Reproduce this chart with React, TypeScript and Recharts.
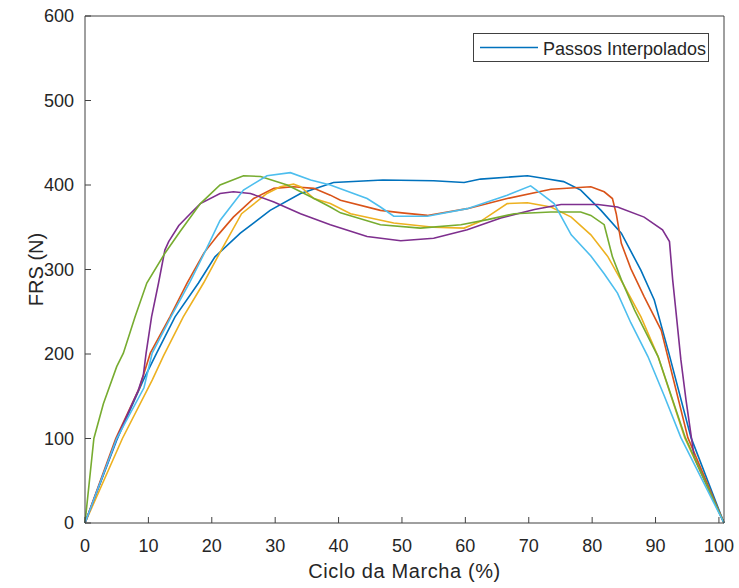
import React from 'react';
import { LineChart, Line, XAxis, YAxis, Legend } from 'recharts';

// ---- data (x = % of gait cycle, y = GRF in N) ----
const xTicks = [0, 10, 20, 30, 40, 50, 60, 70, 80, 90, 100];
const yTicks = [0, 100, 200, 300, 400, 500, 600];

const blueX = [0, 5, 9.2, 11.3, 14.2, 17.9, 20.5, 24.5, 29.2, 34, 39.2, 47, 55, 59.8, 62.4, 69.8, 73, 75.5, 78.2, 81.4, 84.6, 87.7, 89.8, 92.1, 95.6, 100.8];
const blueY = [0, 98, 169, 201, 244, 284, 315, 343, 370, 390, 403, 406, 405, 403, 407, 411, 407, 404, 394, 370, 343, 299, 264, 201, 101, 0];

const orangeX = [0, 4.85, 8.6, 10.3, 13.4, 16.1, 18.8, 21, 23.4, 26.6, 29.8, 32.9, 36.1, 38.7, 40.3, 46.6, 50, 54, 60.3, 66.6, 73.5, 79.8, 81.9, 83.2, 83.8, 84.6, 86.1, 88.2, 90.9, 95.1, 100.8];
const orangeY = [0, 100, 160, 201, 244, 284, 320, 341, 362, 384, 396, 398, 396, 388, 382, 370, 367, 364, 372, 384, 395, 398, 392, 384, 366, 331, 301, 268, 228, 101, 0];

const yellowX = [0, 5.9, 10.6, 12.4, 15.5, 18.7, 21.5, 24.7, 28.7, 30.8, 32.9, 34, 36.1, 38.7, 41.9, 48.7, 55, 59.8, 62.4, 66.6, 69.8, 73.5, 76.7, 79.8, 82.5, 85.1, 87.7, 90.4, 94.6, 100.8];
const yellowY = [0, 100, 169, 198, 244, 284, 323, 366, 390, 398, 401, 398, 384, 378, 366, 355, 350, 349, 357, 378, 379, 374, 362, 341, 315, 280, 244, 197, 101, 0];

const purpleX = [0, 5, 8.4, 9.2, 9.64, 10.5, 11.6, 12.6, 13.2, 14.8, 16.6, 18.2, 21.3, 23.4, 26.1, 29.8, 34, 38.7, 44.5, 49.8, 55, 60.3, 65.6, 70.9, 75.1, 80.9, 84, 88.2, 91.1, 92.2, 92.7, 93.2, 94, 94.8, 96.1, 100.8];
const purpleY = [0, 100, 157, 175, 201, 244, 284, 323, 333, 352, 366, 378, 390, 392, 390, 380, 366, 353, 339, 334, 337, 347, 361, 371, 377, 377, 374, 362, 347, 333, 288, 252, 193, 146, 78, 0];

const greenX = [0, 1.4, 2.9, 5, 6.05, 7.9, 9.75, 12.5, 15, 18.2, 21.3, 25, 27.7, 31.9, 35.6, 38.7, 40.3, 46.6, 52.9, 59.3, 63.5, 67.7, 73.5, 78.2, 79.8, 81.9, 83.2, 84.6, 86.7, 90.4, 94.7, 100.8];
const greenY = [0, 100, 141, 185, 201, 244, 284, 318, 345, 378, 400, 411, 410, 400, 386, 374, 367, 353, 349, 353, 359, 366, 368, 368, 364, 353, 315, 288, 252, 197, 101, 0];

const lightX = [0, 5, 9.3, 10.6, 13.7, 16.6, 19, 21.3, 25, 28.7, 32.4, 35.6, 38.7, 44.5, 46.6, 48.7, 54, 60.3, 66.6, 70.3, 71.9, 74, 76.7, 79.8, 81.9, 84, 86.1, 88.8, 91.4, 94, 100.8];
const lightY = [0, 100, 160, 201, 246, 286, 322, 358, 394, 411, 414.6, 406, 400, 384, 374, 363, 363, 372, 388, 399, 390, 378, 341, 316, 295, 272, 237, 197, 150, 101, 0];

const toPts = (xs: number[], ys: number[]) => xs.map((x, i) => ({ x, y: ys[i] }));

const series = [
  { name: 'Passos Interpolados', color: '#0072BD', data: toPts(blueX, blueY) },
  { name: 's2', color: '#D95319', data: toPts(orangeX, orangeY) },
  { name: 's3', color: '#EDB120', data: toPts(yellowX, yellowY) },
  { name: 's4', color: '#7E2F8E', data: toPts(purpleX, purpleY) },
  { name: 's5', color: '#77AC30', data: toPts(greenX, greenY) },
  { name: 's6', color: '#4DBEEE', data: toPts(lightX, lightY) },
];

const FONT = '"Liberation Sans", Arial, Helvetica, sans-serif';
const AXIS = '#404040';
const TEXT = '#262626';

const XLabel = (props: any) => {
  const vb = props.viewBox || {};
  return (
    <text x={vb.x + vb.width / 2} y={vb.y + 55} textAnchor="middle" fill={TEXT}
      style={{ fontFamily: FONT, fontSize: 20, letterSpacing: 0.6 }}>
      Ciclo da Marcha (%)
    </text>
  );
};

const YLabel = (props: any) => {
  const vb = props.viewBox || {};
  const cx = vb.x + 43;
  const cy = vb.y + vb.height / 2;
  return (
    <text x={cx} y={cy} textAnchor="middle" fill={TEXT} transform={`rotate(-90 ${cx} ${cy})`}
      style={{ fontFamily: FONT, fontSize: 20 }}>
      FRS (N)
    </text>
  );
};

const LegendBox = (props: any) => {
  const items = (props.payload || []).filter((p: any) => p.value === 'Passos Interpolados');
  return (
    <svg width={236} height={29} style={{ display: 'block' }}>
      <rect x={0.5} y={0.5} width={235} height={28} fill="#fff" stroke={AXIS} strokeWidth={1} />
      {items.map((it: any) => (
        <g key={it.value}>
          <line x1={7} x2={65} y1={14.5} y2={14.5} stroke={it.color} strokeWidth={1.5} />
          <text x={70} y={21.5} fill={TEXT} style={{ fontFamily: FONT, fontSize: 18 }}>{it.value}</text>
        </g>
      ))}
    </svg>
  );
};

export default function App() {
  return (
    <div style={{ position: 'absolute', left: 0, top: 0, width: 739, height: 588, background: '#fff' }}>
      <LineChart width={739} height={586} margin={{ top: 15, right: 14, bottom: 0, left: 0 }}>
        <XAxis xAxisId="b" dataKey="x" type="number" domain={[0, 100.8]} ticks={xTicks} interval={0}
          orientation="bottom" height={63} stroke={AXIS} tickSize={-6} tickMargin={22}
          tick={{ fill: TEXT, fontSize: 18, fontFamily: FONT }} label={<XLabel />} />
        <XAxis xAxisId="t" dataKey="x" type="number" domain={[0, 100.8]} ticks={xTicks} interval={0}
          orientation="top" height={1} stroke={AXIS} tickSize={-6} tick={false} />
        <YAxis yAxisId="l" type="number" domain={[0, 600]} ticks={yTicks} interval={0}
          orientation="left" width={85} stroke={AXIS} tickSize={-6} tickMargin={17}
          tick={{ fill: TEXT, fontSize: 18, fontFamily: FONT }} label={<YLabel />} />
        <YAxis yAxisId="r" type="number" domain={[0, 600]} ticks={yTicks} interval={0}
          orientation="right" width={1} stroke={AXIS} tickSize={-6} tick={false} />
        {series.map((s) => (
          <Line key={s.name} xAxisId="b" yAxisId="l" data={s.data} dataKey="y" name={s.name}
            type="linear" stroke={s.color} strokeWidth={1.6} dot={false} activeDot={false}
            isAnimationActive={false} />
        ))}
        <Legend layout="horizontal" verticalAlign="middle" align="center" content={<LegendBox />}
          wrapperStyle={{ position: 'absolute', left: 473, top: 33, width: 236, height: 29 }} />
      </LineChart>
    </div>
  );
}
